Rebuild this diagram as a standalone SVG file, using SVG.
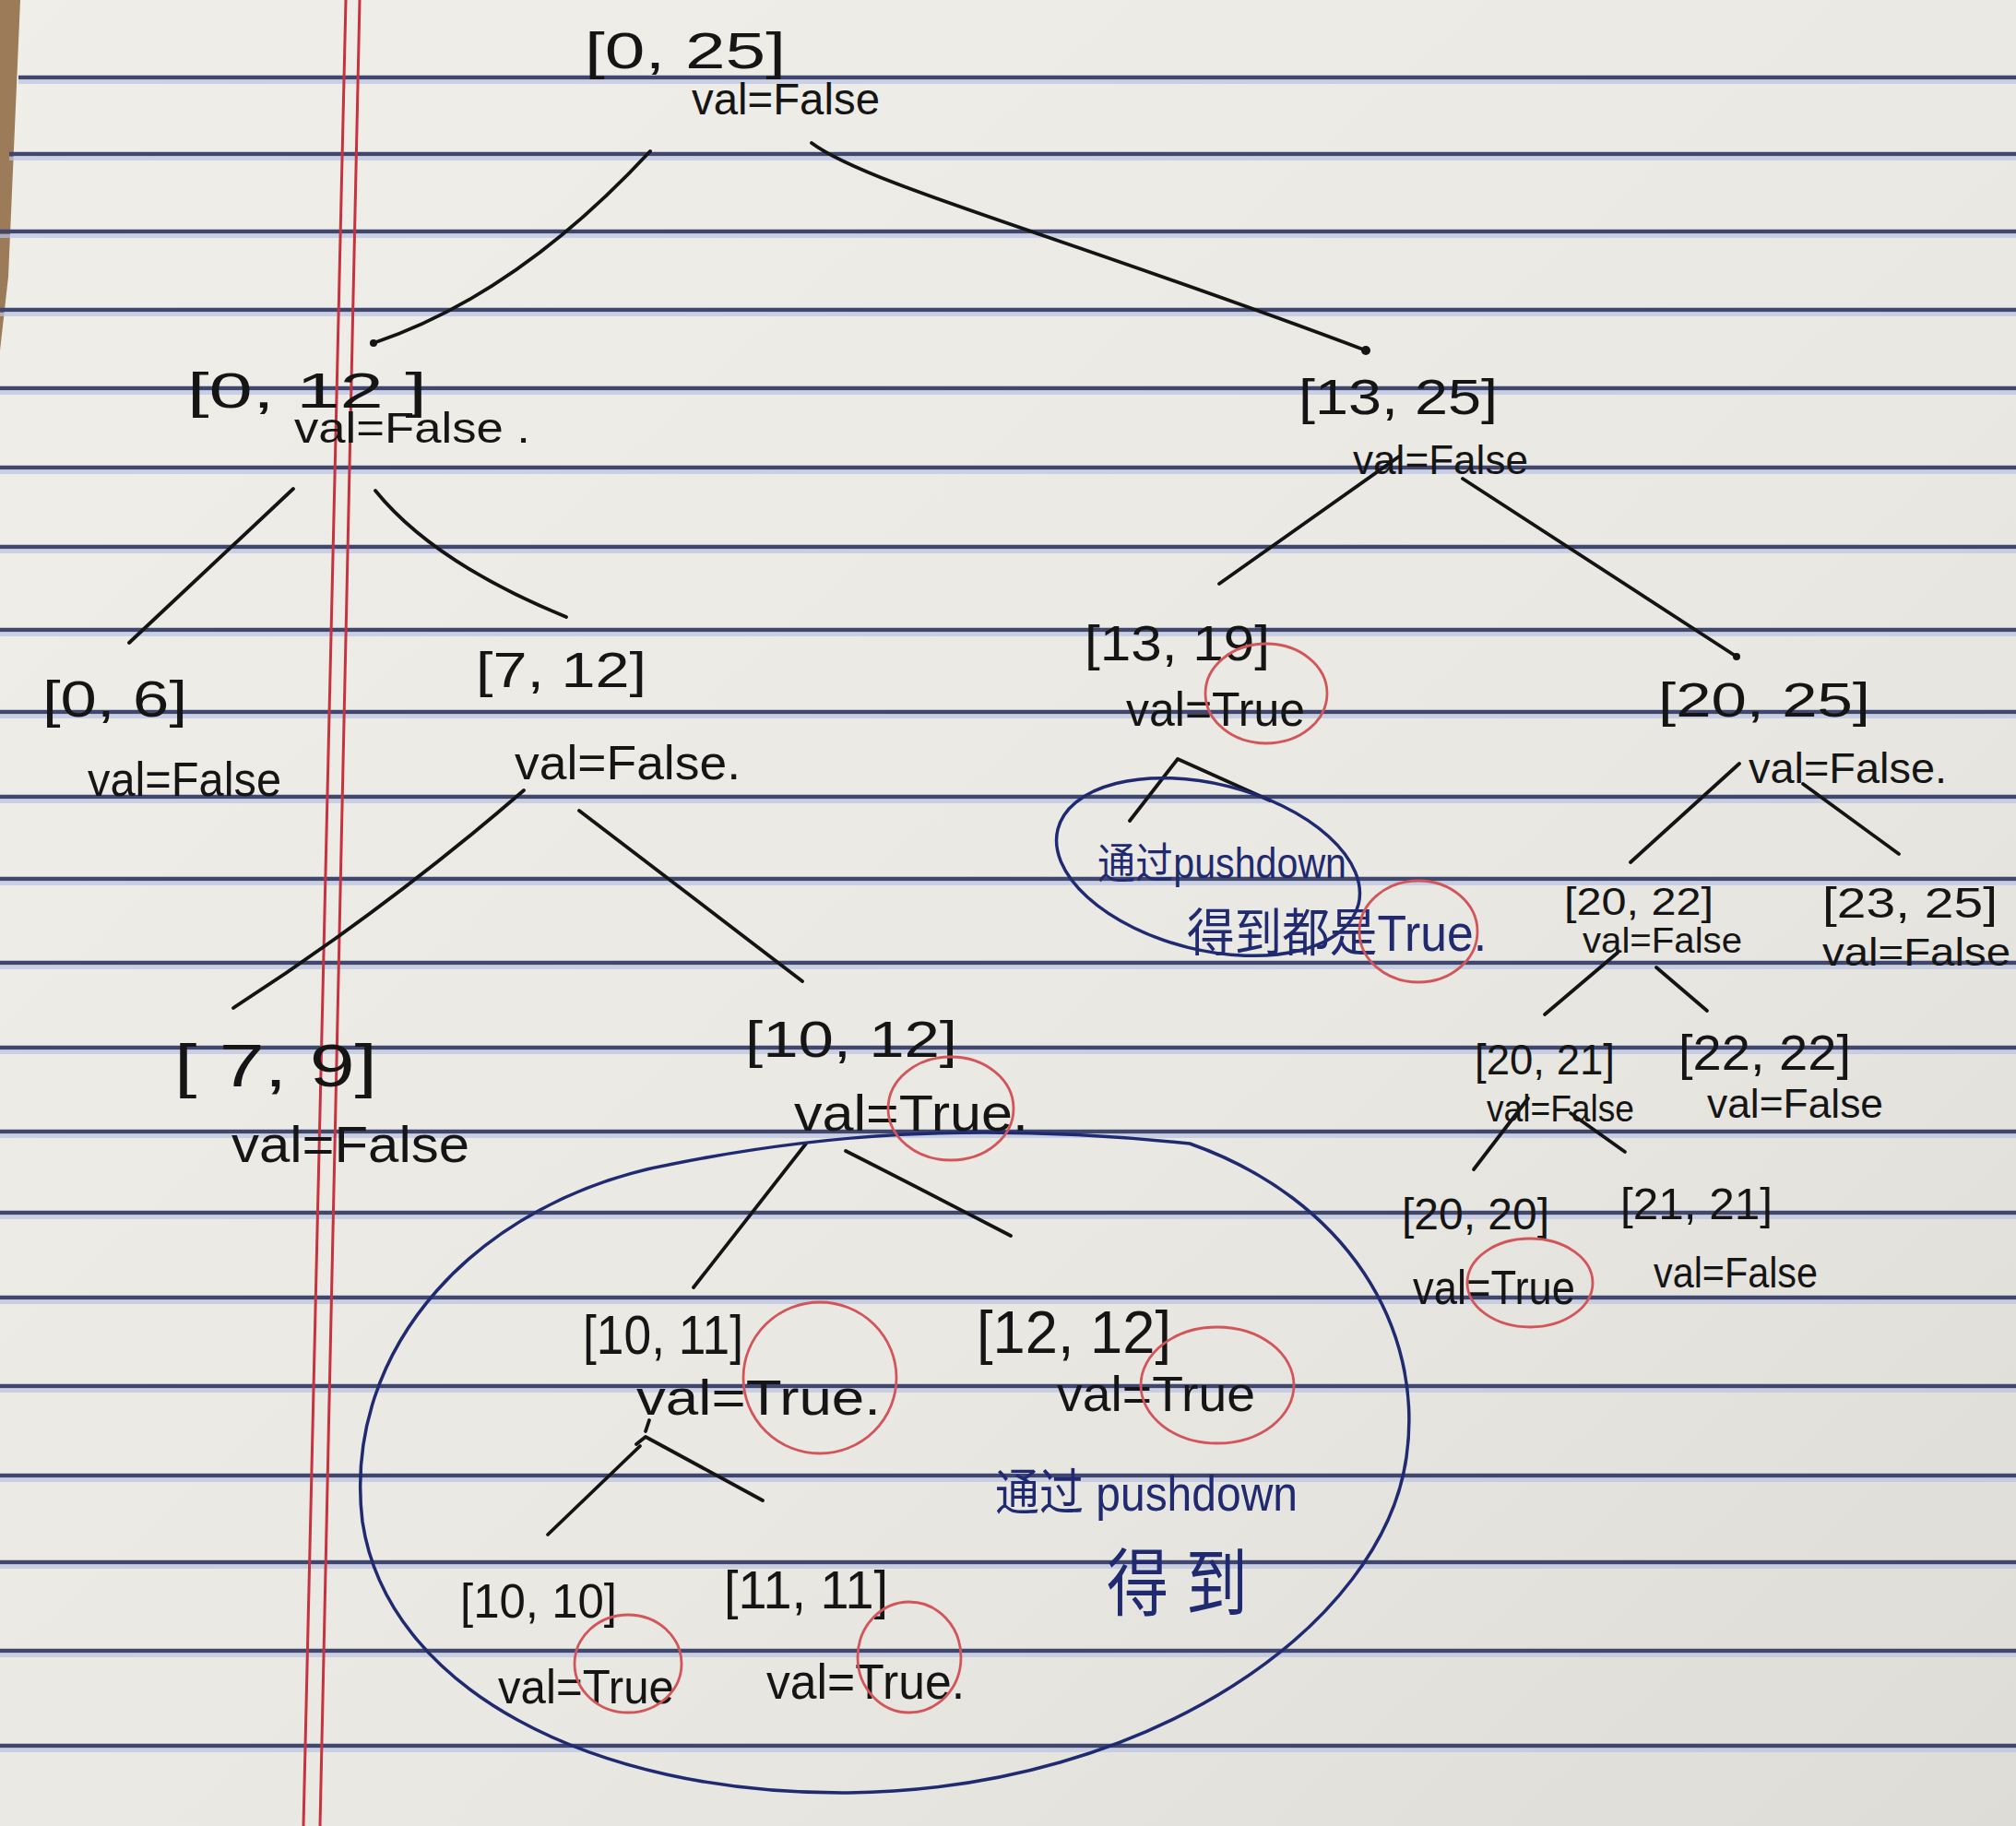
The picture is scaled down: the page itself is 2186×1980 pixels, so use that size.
<svg xmlns="http://www.w3.org/2000/svg" width="2186" height="1980" viewBox="0 0 2186 1980">
<defs>
<linearGradient id="paper" x1="0" y1="0" x2="1" y2="1">
<stop offset="0" stop-color="#efeee9"/>
<stop offset="0.6" stop-color="#eae8e2"/>
<stop offset="1" stop-color="#dedcd6"/>
</linearGradient>
<style>
.rule{stroke:#3f4770;stroke-width:4.5;fill:none}
.ruleglow{stroke:#b9c3e6;stroke-width:4;fill:none;opacity:.7}
.margin{stroke:#c8323e;stroke-width:3;fill:none}
.ink{stroke:#141414;stroke-width:3.8;fill:none;stroke-linecap:round;stroke-linejoin:round}
.navy{stroke:#1f2a70;stroke-width:3.5;fill:none}
.red{stroke:#d2555a;stroke-width:2.8;fill:none}
.br{font-family:"Liberation Sans","DejaVu Sans",sans-serif;fill:#151515}
.val{font-family:"Liberation Sans","DejaVu Sans",sans-serif;fill:#151515}
.note{font-family:"Liberation Sans","Noto Sans CJK SC",sans-serif;fill:#1f2a70}
</style>
</defs>
<rect width="2186" height="1980" fill="url(#paper)"/>
<polygon points="0,0 22,0 9,300 0,380" fill="#9b7b58"/>
<g id="rules">
<g class="ruleglow" transform="translate(0,5)">
<path d="M20,84H2186M10,167H2186M0,251H2186M0,336H2186M0,421H2186M0,507H2186M0,593H2186M0,683H2186M0,772H2186M0,864H2186M0,953H2186M0,1044H2186M0,1136H2186M0,1227H2186M0,1315H2186M0,1407H2186M0,1503H2186M0,1600H2186M0,1694H2186M0,1790H2186M0,1893H2186"/>
</g>
<g class="rule">
<path d="M20,84H2186M10,167H2186M0,251H2186M0,336H2186M0,421H2186M0,507H2186M0,593H2186M0,683H2186M0,772H2186M0,864H2186M0,953H2186M0,1044H2186M0,1136H2186M0,1227H2186M0,1315H2186M0,1407H2186M0,1503H2186M0,1600H2186M0,1694H2186M0,1790H2186M0,1893H2186"/>
</g>
<line class="margin" x1="375" y1="0" x2="329" y2="1980"/>
<line class="margin" x1="390" y1="0" x2="347" y2="1980"/>
</g>

<g id="connectors">
<path class="ink" d="M705,164 Q560,320 405,372"/>
<circle cx="405" cy="372" r="4" fill="#141414"/>
<path class="ink" d="M880,155 C940,200 1150,255 1481,380"/>
<circle cx="1481" cy="380" r="5" fill="#141414"/>
<path class="ink" d="M318,530 L140,697"/>
<path class="ink" d="M407,532 Q470,610 614,669"/>
<path class="ink" d="M568,857 Q420,985 253,1093"/>
<path class="ink" d="M628,879 L870,1064"/>
<path class="ink" d="M1517,495 L1322,633"/>
<path class="ink" d="M1586,519 L1883,712"/>
<circle cx="1883" cy="712" r="4" fill="#141414"/>
<path class="ink" d="M1886,828 L1768,935"/>
<path class="ink" d="M1955,850 L2059,926"/>
<path class="ink" d="M1754,1033 L1675,1100"/>
<path class="ink" d="M1796,1049 L1851,1096"/>
<path class="ink" d="M1657,1191 L1598,1268"/>
<path class="ink" d="M1703,1207 L1762,1249"/>
<path class="ink" d="M874,1240 L752,1396"/>
<path class="ink" d="M917,1248 Q1000,1290 1096,1340"/>
<path class="ink" d="M704,1540 L700,1552 M694,1568 L594,1664"/>
<path class="ink" d="M690,1566 L700,1558 L827,1627"/>
<path class="ink" d="M1225,890 L1277,823 L1377,868"/>
</g>

<g id="group-ellipse">
<path class="navy" d="M1290,1240 C1460,1300 1545,1440 1525,1580 C1500,1760 1250,1940 920,1944 C640,1946 420,1830 393,1650 C370,1460 520,1300 730,1262 C880,1232 1050,1215 1290,1240 Z"/>
</g>

<g id="n0_25">
<text class="br" x="634" y="74" font-size="56" textLength="218" lengthAdjust="spacingAndGlyphs">[0, 25]</text>
<text class="val" x="750" y="124" font-size="48" textLength="204" lengthAdjust="spacingAndGlyphs">val=False</text>
</g>
<g id="n0_12">
<text class="br" x="203" y="442" font-size="54" textLength="260" lengthAdjust="spacingAndGlyphs">[0, 12 ]</text>
<text class="val" x="319" y="480" font-size="46" textLength="256" lengthAdjust="spacingAndGlyphs">val=False .</text>
</g>
<g id="n13_25">
<text class="br" x="1408" y="449" font-size="54" textLength="216" lengthAdjust="spacingAndGlyphs">[13, 25]</text>
<text class="val" x="1467" y="514" font-size="44" textLength="190" lengthAdjust="spacingAndGlyphs">val=False</text>
</g>
<g id="n0_6">
<text class="br" x="46" y="777" font-size="56" textLength="157" lengthAdjust="spacingAndGlyphs">[0, 6]</text>
<text class="val" x="95" y="863" font-size="52" textLength="210" lengthAdjust="spacingAndGlyphs">val=False</text>
</g>
<g id="n7_12">
<text class="br" x="516" y="745" font-size="54" textLength="185" lengthAdjust="spacingAndGlyphs">[7, 12]</text>
<text class="val" x="558" y="845" font-size="52" textLength="245" lengthAdjust="spacingAndGlyphs">val=False.</text>
</g>
<g id="n13_19">
<text class="br" x="1176" y="716" font-size="54" textLength="201" lengthAdjust="spacingAndGlyphs">[13, 19]</text>
<text class="val" x="1221" y="787" font-size="52" textLength="194" lengthAdjust="spacingAndGlyphs">val=True</text>
<ellipse class="red" cx="1373" cy="752" rx="66" ry="54"/>
</g>
<g id="note_13_19">
<ellipse class="navy" cx="1310" cy="940" rx="168" ry="90" transform="rotate(14 1310 940)"/>
<text class="note" x="1190" y="952" font-size="46" textLength="270" lengthAdjust="spacingAndGlyphs">通过pushdown</text>
<text class="note" x="1287" y="1031" font-size="56" textLength="325" lengthAdjust="spacingAndGlyphs">得到都是True.</text>
<ellipse class="red" cx="1538" cy="1010" rx="64" ry="55"/>
</g>
<g id="n20_25">
<text class="br" x="1798" y="777" font-size="52" textLength="230" lengthAdjust="spacingAndGlyphs">[20, 25]</text>
<text class="val" x="1896" y="849" font-size="46" textLength="215" lengthAdjust="spacingAndGlyphs">val=False.</text>
</g>
<g id="n7_9">
<text class="br" x="189" y="1178" font-size="64" textLength="220" lengthAdjust="spacingAndGlyphs">[ 7, 9]</text>
<text class="val" x="251" y="1260" font-size="56" textLength="258" lengthAdjust="spacingAndGlyphs">val=False</text>
</g>
<g id="n10_12">
<text class="br" x="808" y="1146" font-size="56" textLength="230" lengthAdjust="spacingAndGlyphs">[10, 12]</text>
<text class="val" x="861" y="1226" font-size="56" textLength="254" lengthAdjust="spacingAndGlyphs">val=True.</text>
<ellipse class="red" cx="1031" cy="1202" rx="68" ry="56"/>
</g>
<g id="n20_22">
<text class="br" x="1696" y="992" font-size="42" textLength="162" lengthAdjust="spacingAndGlyphs">[20, 22]</text>
<text class="val" x="1716" y="1033" font-size="38" textLength="173" lengthAdjust="spacingAndGlyphs">val=False</text>
</g>
<g id="n23_25">
<text class="br" x="1976" y="995" font-size="46" textLength="190" lengthAdjust="spacingAndGlyphs">[23, 25]</text>
<text class="val" x="1976" y="1047" font-size="42" textLength="204" lengthAdjust="spacingAndGlyphs">val=False</text>
</g>
<g id="n10_11">
<text class="br" x="632" y="1468" font-size="60" textLength="174" lengthAdjust="spacingAndGlyphs">[10, 11]</text>
<text class="val" x="690" y="1534" font-size="54" textLength="265" lengthAdjust="spacingAndGlyphs">val=True.</text>
<ellipse class="red" cx="889" cy="1494" rx="83" ry="82"/>
</g>
<g id="n12_12">
<text class="br" x="1059" y="1467" font-size="64" textLength="211" lengthAdjust="spacingAndGlyphs">[12, 12]</text>
<text class="val" x="1146" y="1530" font-size="54" textLength="215" lengthAdjust="spacingAndGlyphs">val=True</text>
<ellipse class="red" cx="1320" cy="1502" rx="83" ry="63"/>
<text class="note" x="1079" y="1638" font-size="54" textLength="328" lengthAdjust="spacingAndGlyphs">通过 pushdown</text>
<text class="note" x="1200" y="1745" font-size="80" textLength="153" lengthAdjust="spacingAndGlyphs">得 到</text>
</g>
<g id="n20_21">
<text class="br" x="1599" y="1165" font-size="46" textLength="152" lengthAdjust="spacingAndGlyphs">[20, 21]</text>
<text class="val" x="1612" y="1216" font-size="40" textLength="160" lengthAdjust="spacingAndGlyphs">val=False</text>
</g>
<g id="n22_22">
<text class="br" x="1820" y="1160" font-size="54" textLength="187" lengthAdjust="spacingAndGlyphs">[22, 22]</text>
<text class="val" x="1851" y="1212" font-size="44" textLength="191" lengthAdjust="spacingAndGlyphs">val=False</text>
</g>
<g id="n10_10">
<text class="br" x="499" y="1754" font-size="52" textLength="170" lengthAdjust="spacingAndGlyphs">[10, 10]</text>
<text class="val" x="540" y="1847" font-size="52" textLength="191" lengthAdjust="spacingAndGlyphs">val=True</text>
<ellipse class="red" cx="681" cy="1804" rx="58" ry="53"/>
</g>
<g id="n11_11">
<text class="br" x="785" y="1744" font-size="58" textLength="178" lengthAdjust="spacingAndGlyphs">[11, 11]</text>
<text class="val" x="831" y="1842" font-size="54" textLength="215" lengthAdjust="spacingAndGlyphs">val=True.</text>
<ellipse class="red" cx="986" cy="1797" rx="56" ry="60"/>
</g>
<g id="n20_20">
<text class="br" x="1520" y="1333" font-size="48" textLength="160" lengthAdjust="spacingAndGlyphs">[20, 20]</text>
<text class="val" x="1532" y="1414" font-size="52" textLength="176" lengthAdjust="spacingAndGlyphs">val=True</text>
<ellipse class="red" cx="1659" cy="1391" rx="68" ry="48"/>
</g>
<g id="n21_21">
<text class="br" x="1757" y="1322" font-size="48" textLength="165" lengthAdjust="spacingAndGlyphs">[21, 21]</text>
<text class="val" x="1793" y="1396" font-size="46" textLength="178" lengthAdjust="spacingAndGlyphs">val=False</text>
</g>
</svg>
